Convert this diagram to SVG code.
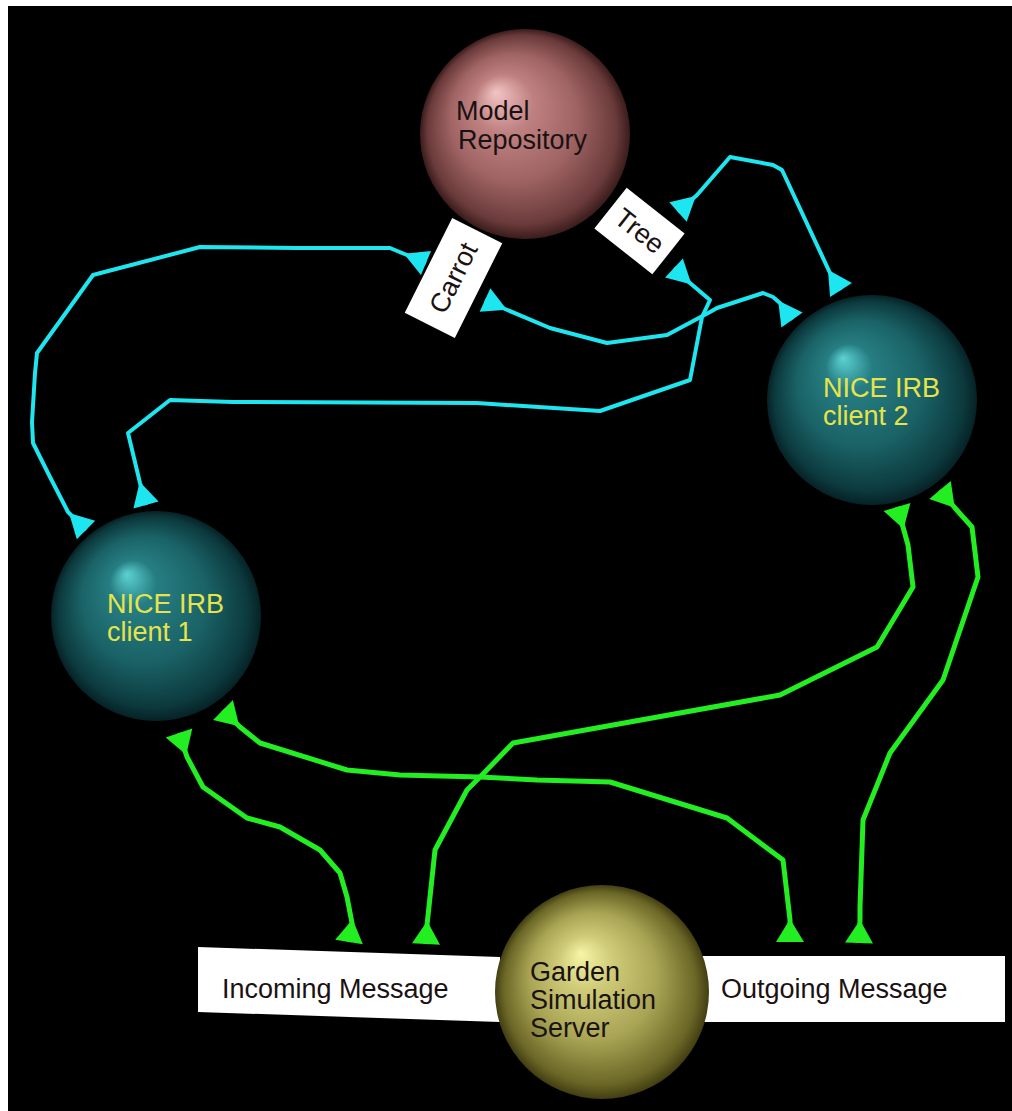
<svg xmlns="http://www.w3.org/2000/svg" width="1012" height="1111" viewBox="0 0 1012 1111">
<defs>
<style>
.lbl{font-family:"Liberation Sans",Arial,sans-serif;font-size:27px}
.dark{fill:#1a1212}
.yel{fill:#e6e44a}
.box{fill:#ffffff}
.cy{fill:none;stroke:#1ee6f0;stroke-width:4;stroke-linejoin:round;marker-start:url(#mc);marker-end:url(#mc)}
.gr{fill:none;stroke:#22ee22;stroke-width:5;stroke-linejoin:round;marker-start:url(#mg);marker-end:url(#mg)}
</style>
<marker id="mc" viewBox="-26 -15 30 30" refX="0" refY="0" markerWidth="30" markerHeight="30" markerUnits="userSpaceOnUse" orient="auto-start-reverse">
<path d="M0,-13 L0,13 L-24,0 Z" fill="#1ee6f0"/>
</marker>
<marker id="mg" viewBox="-26 -15 30 30" refX="0" refY="0" markerWidth="30" markerHeight="30" markerUnits="userSpaceOnUse" orient="auto-start-reverse">
<path d="M0,-14 L0,14 L-23,0 Z" fill="#22ee22"/>
</marker>
<radialGradient id="gModel" cx="0.5" cy="0.5" r="0.5" fx="0.36" fy="0.3">
<stop offset="0" stop-color="#f2c4c4"/>
<stop offset="0.28" stop-color="#bf8080"/>
<stop offset="0.6" stop-color="#a06464"/>
<stop offset="0.9" stop-color="#6a3a3a"/>
<stop offset="1" stop-color="#3a1c1c"/>
</radialGradient>
<radialGradient id="gClient" cx="0.5" cy="0.5" r="0.5" fx="0.36" fy="0.3">
<stop offset="0" stop-color="#5cd2d2"/>
<stop offset="0.22" stop-color="#267e82"/>
<stop offset="0.6" stop-color="#1a6266"/>
<stop offset="0.9" stop-color="#0c3a3e"/>
<stop offset="1" stop-color="#062226"/>
</radialGradient>
<radialGradient id="gGarden" cx="0.5" cy="0.5" r="0.5" fx="0.4" fy="0.32">
<stop offset="0" stop-color="#f6f6a6"/>
<stop offset="0.25" stop-color="#cfcb78"/>
<stop offset="0.6" stop-color="#a8a454"/>
<stop offset="0.9" stop-color="#6a6626"/>
<stop offset="1" stop-color="#423e12"/>
</radialGradient>
</defs>
<rect x="0" y="0" width="1012" height="1111" fill="#ffffff"/>
<rect x="8" y="6" width="1004" height="1105" fill="#000000"/>

<g id="incoming-message">
<polygon class="box" points="198,947 500,957 500,1022 198,1012"/>
<text class="lbl dark" x="222" y="998" font-size="28">Incoming Message</text>
</g>
<g id="outgoing-message">
<polygon class="box" points="690,956 1005,956 1005,1022 690,1022"/>
<text class="lbl dark" x="721" y="998" font-size="28">Outgoing Message</text>
</g>

<g id="garden-simulation-server">
<circle cx="602" cy="992" r="107" fill="url(#gGarden)"/>
<text class="lbl dark" x="530" y="981">Garden</text>
<text class="lbl dark" x="530" y="1009">Simulation</text>
<text class="lbl dark" x="530" y="1037">Server</text>
</g>

<g id="model-repository">
<circle cx="525" cy="134" r="105" fill="url(#gModel)"/>
<text class="lbl dark" x="456" y="120" font-size="26">Model</text>
<text class="lbl dark" x="458" y="149" font-size="26">Repository</text>
</g>

<g id="nice-irb-client-1">
<circle cx="156" cy="616" r="105" fill="url(#gClient)"/>
<text class="lbl yel" x="107" y="613">NICE IRB</text>
<text class="lbl yel" x="107" y="641">client 1</text>
</g>

<g id="nice-irb-client-2">
<circle cx="872" cy="400" r="105" fill="url(#gClient)"/>
<text class="lbl yel" x="823" y="397">NICE IRB</text>
<text class="lbl yel" x="823" y="425">client 2</text>
</g>

<g id="connectors">
<path class="cy" d="M86,530 L68,512 L50,477 L33,443 L32,422 L35,373 L37,353 L93,275 L200,247 L297,248 L390,248 L407,255 L426,263"/>
<path class="cy" d="M146,505 L140,483 L128,433 L170,400 L233,402 L477,403 L600,411 L690,380 L702,317 L710,300 L690,283 L674,268"/>
<path class="cy" d="M485,300 L505,309 L550,328 L607,343 L667,335 L710,312 L717,308 L763,293 L773,297 L780,303 L792,320"/>
<path class="cy" d="M678,212 L697,195 L730,157 L773,165 L782,170 L830,273 L841,290"/>
<path class="gr" d="M179,733 L187,757 L203,787 L247,818 L280,827 L320,850 L340,873 L347,897 L352,923 L349,942"/>
<path class="gr" d="M223,710 L240,727 L260,743 L347,770 L400,775 L480,777 L537,780 L610,782 L727,818 L783,860 L790,920 L790,942"/>
<path class="gr" d="M426,944 L427,925 L430,897 L435,850 L467,790 L480,777 L513,743 L780,695 L877,647 L913,587 L908,545 L903,527 L897,507"/>
<path class="gr" d="M940,490 L955,508 L972,527 L978,577 L943,680 L890,753 L863,820 L860,907 L860,920 L859,943"/>
</g>

<g id="carrot">
<g transform="translate(453.5,278) rotate(-63.4)">
<rect class="box" x="-53" y="-28" width="106" height="56"/>
<text class="lbl dark" x="0" y="9" text-anchor="middle" font-size="26">Carrot</text>
</g>
</g>
<g id="tree">
<g transform="translate(639.5,231) rotate(38.4)">
<rect class="box" x="-37" y="-26" width="74" height="52"/>
<text class="lbl dark" x="0" y="9" text-anchor="middle" font-size="26">Tree</text>
</g>
</g>
</svg>
